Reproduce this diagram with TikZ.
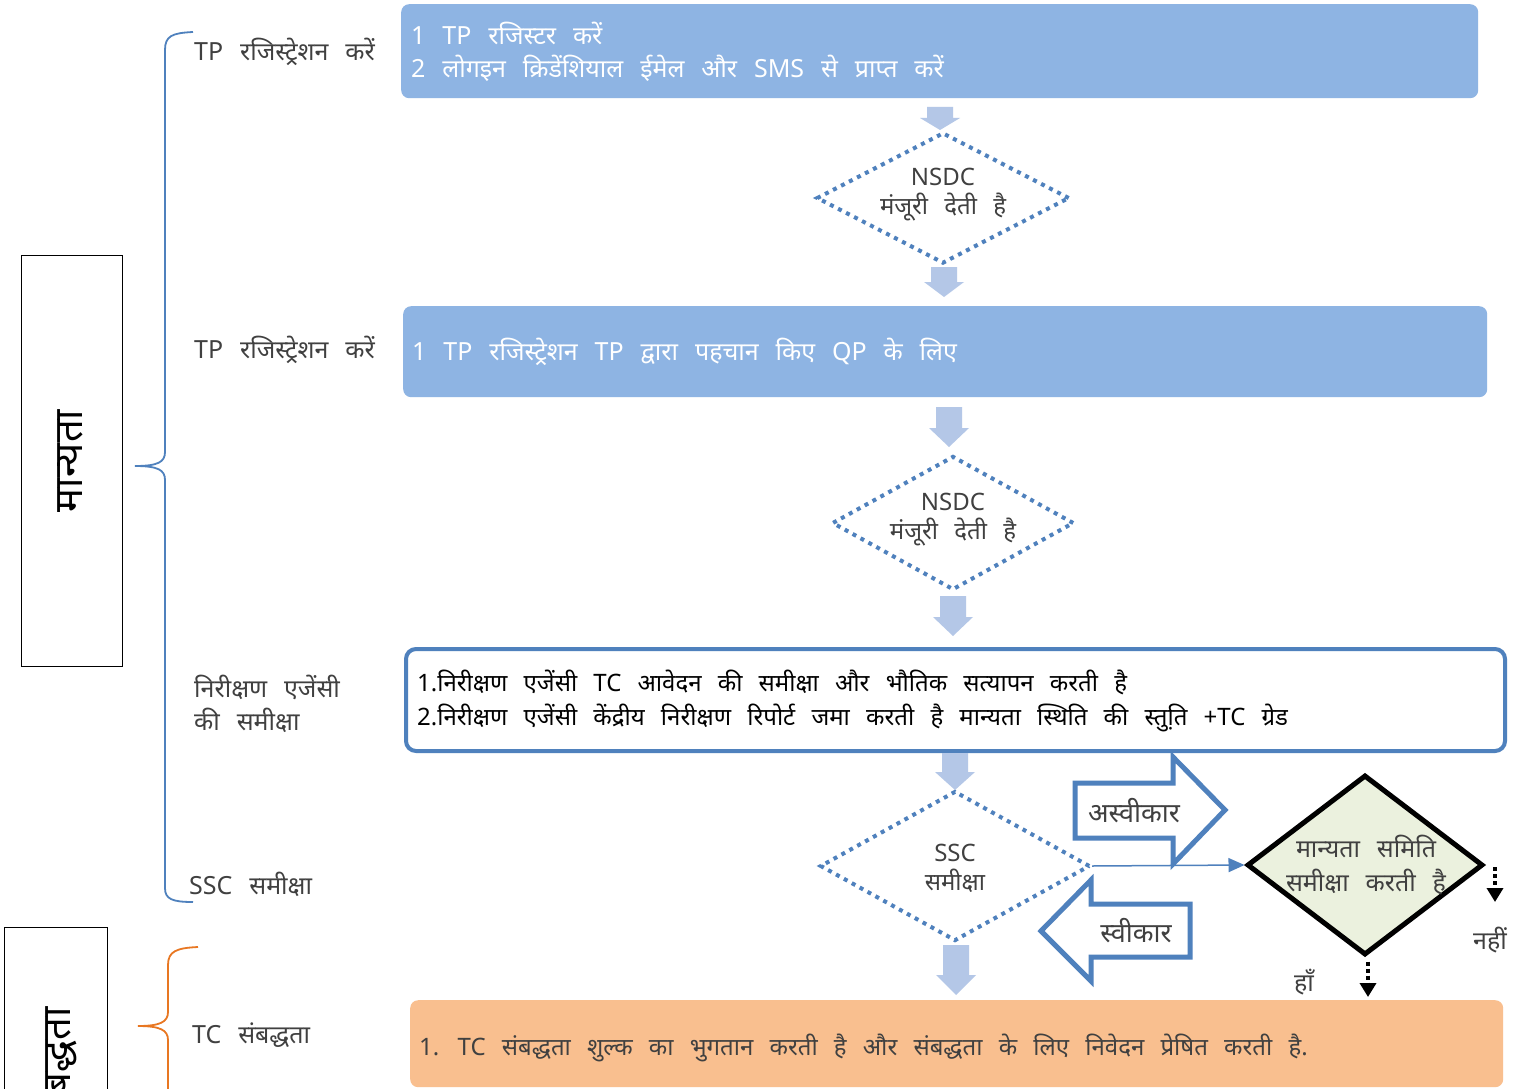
\documentclass[tikz,border=0pt]{standalone}
\usepackage{fontspec}
\setmainfont[Script=Devanagari, WordSpace=2.6]{Noto Sans}
\usetikzlibrary{shapes.geometric,arrows.meta,calc}
\definecolor{boxblue}{HTML}{8EB4E3}
\definecolor{lineblue}{HTML}{4F81BD}
\definecolor{arrowblue}{HTML}{B4C7E7}
\definecolor{orangefill}{HTML}{F9BF8F}
\definecolor{greenfill}{HTML}{EBF1DE}
\definecolor{txt}{HTML}{404040}
\definecolor{braceorange}{HTML}{E87722}
\newcommand\BlkArrow[4]{\fill[arrowblue] ({#1-13},#2) -- ({#1+13},#2) -- ({#1+13},#3) -- ({#1+20},#3) -- (#1,#4) -- ({#1-20},#3) -- ({#1-13},#3) -- cycle;}
\tikzset{
  bluebox/.style={fill=boxblue, rounded corners=8pt, anchor=north west, inner sep=0pt},
  boxtext/.style={text=white, anchor=west, inner sep=0pt, align=left, font=\fontsize{25}{33}\selectfont},
  label/.style={text=txt, anchor=west, inner sep=0pt, align=left, font=\fontsize{25}{33}\selectfont},
  dotdiamond/.style={diamond, draw=lineblue, line width=4pt, dash pattern=on 4pt off 5pt, inner sep=0pt, aspect=2},
  dtext/.style={text=txt, align=center, inner sep=0pt, font=\fontsize{24}{29}\selectfont},
  outarrow/.style={draw=lineblue, line width=5pt, fill=white, line join=miter},
  sidebox/.style={draw=black, line width=1.2pt, anchor=north west, inner sep=0pt},
  sidetext/.style={text=black, rotate=90, inner sep=0pt, font=\fontsize{40}{40}\selectfont\bfseries},
  dotarrow/.style={black, line width=4pt, dash pattern=on 4pt off 3pt, -{Triangle[length=14pt,width=16pt]}}
}
\begin{document}
\begin{tikzpicture}[x=1pt,y=-1pt]
\clip (0,0) rectangle (1528,1089);
\fill[white] (0,0) rectangle (1528,1089);

% side boxes
\node[sidebox, minimum width=101pt, minimum height=411pt] (mbox) at (21,255) {};
\node[sidetext] (mtext) at (70,461) {मान्यता};
\node[sidebox, minimum width=103pt, minimum height=200pt] (sbox) at (4,927) {};
\node[sidetext, anchor=east] (stext) at (57,1007) {संबद्धता};

% braces
\draw[lineblue, line width=1.8pt] (193,32) .. controls (172,33) and (165,36) .. (165,50) -- (165,452)
  .. controls (165,462) and (158,466) .. (135,466) .. controls (158,466) and (165,470) .. (165,480)
  -- (165,888) .. controls (165,899) and (172,902) .. (193,902);
\draw[braceorange, line width=1.8pt] (198,947) .. controls (177,948) and (168,951) .. (168,965) -- (168,1012)
  .. controls (168,1022) and (160,1026) .. (138,1026) .. controls (160,1026) and (168,1030) .. (168,1040)
  -- (168,1100);

% left labels
\node[label] (l1) at (194,52) {TP रजिस्ट्रेशन करें};
\node[label] (l2) at (194,350) {TP रजिस्ट्रेशन करें};
\node[label] (l3) at (194,704) {निरीक्षण एजेंसी\\की समीक्षा};
\node[label] (l4) at (189,884) {SSC समीक्षा};
\node[label] (l5) at (192,1035) {TC संबद्धता};

% main boxes
\node[bluebox, minimum width=1077pt, minimum height=94pt] (box1) at (401,4) {};
\node[boxtext] (t1) at (411,52) {1 TP रजिस्टर करें\\2 लोगइन क्रिडेंशियाल ईमेल और SMS से प्राप्त करें};
\node[bluebox, minimum width=1084pt, minimum height=91pt] (box2) at (403,306) {};
\node[boxtext] (t2) at (412,352) {1 TP रजिस्ट्रेशन TP द्वारा पहचान किए QP के लिए};
\node[draw=lineblue, line width=4pt, fill=white, rounded corners=10pt, anchor=north west, inner sep=0pt,
      minimum width=1099pt, minimum height=102pt] (box3) at (404,647) {};
\node[label, text=black, font=\fontsize{24}{34}\selectfont] (t3) at (417,701) {1.निरीक्षण एजेंसी TC आवेदन की समीक्षा और भौतिक सत्यापन करती है\\2.निरीक्षण एजेंसी केंद्रीय निरीक्षण रिपोर्ट जमा करती है मान्यता स्थिति की स्तुति़ +TC ग्रेड};
\node[bluebox, fill=orangefill, minimum width=1093pt, minimum height=87pt] (box4) at (410,1000) {};
\node[label, font=\fontsize{24}{33}\selectfont] (t4) at (419,1048) {1. TC संबद्धता शुल्क का भुगतान करती है और संबद्धता के लिए निवेदन प्रेषित करती है.};

% diamonds
\node[dotdiamond, minimum width=253pt, minimum height=131pt] (d1) at (943,198) {};
\node[dtext] (d1t) at (943,195) {NSDC\\मंजूरी देती है};
\node[dotdiamond, minimum width=242pt, minimum height=134pt] (d2) at (953,523) {};
\node[dtext] (d2t) at (953,520) {NSDC\\मंजूरी देती है};
\node[dotdiamond, minimum width=270pt, minimum height=150pt] (d3) at (955,866) {};
\node[dtext] (d3t) at (955,868) {SSC\\समीक्षा};
\node[diamond, draw=black, line width=5pt, fill=greenfill, inner sep=0pt, aspect=1.3,
      minimum width=236pt, minimum height=180pt] (dec) at (1365,865) {};
\node[dtext, font=\fontsize{25}{34}\selectfont] (dect) at (1366,865) {मान्यता समिति\\समीक्षा करती है};

% block arrows
\BlkArrow{940}{107}{118}{130}
\BlkArrow{944}{267}{282}{297}
\BlkArrow{949}{407}{428}{447}
\BlkArrow{953}{596}{617}{636}
\BlkArrow{955}{753}{772}{790}
\BlkArrow{956}{945}{975}{995}

% reject / accept arrows
\draw[outarrow] (1075,783) -- (1173,783) -- (1173,757) -- (1225,810) -- (1173,864) -- (1173,838) -- (1075,838) -- cycle;
\node[label, anchor=center, font=\fontsize{27}{33}\selectfont] (rej) at (1134,811) {अस्वीकार};
\draw[outarrow] (1190,904) -- (1091,904) -- (1091,880) -- (1041,931) -- (1091,981) -- (1091,957) -- (1190,957) -- cycle;
\node[label, anchor=center, font=\fontsize{27}{33}\selectfont] (acc) at (1136,931) {स्वीकार};

% connector
\draw[lineblue, line width=1.5pt, -{Triangle[length=16pt,width=14pt]}] (d3.east) -- (dec.west);

% dotted outcome arrows
\coordinate (noend) at (1495,902);
\coordinate (yesend) at (1368,997);
\draw[dotarrow] (dec.east -| noend) ++(0,2) -- (noend);
\draw[dotarrow] (dec.south -| yesend) ++(0,4) -- (yesend);
\node[label, anchor=center] (no) at (1490,940) {नहीं};
\node[label, anchor=center] (yes) at (1304,982) {हाँ};
\end{tikzpicture}
\end{document}
